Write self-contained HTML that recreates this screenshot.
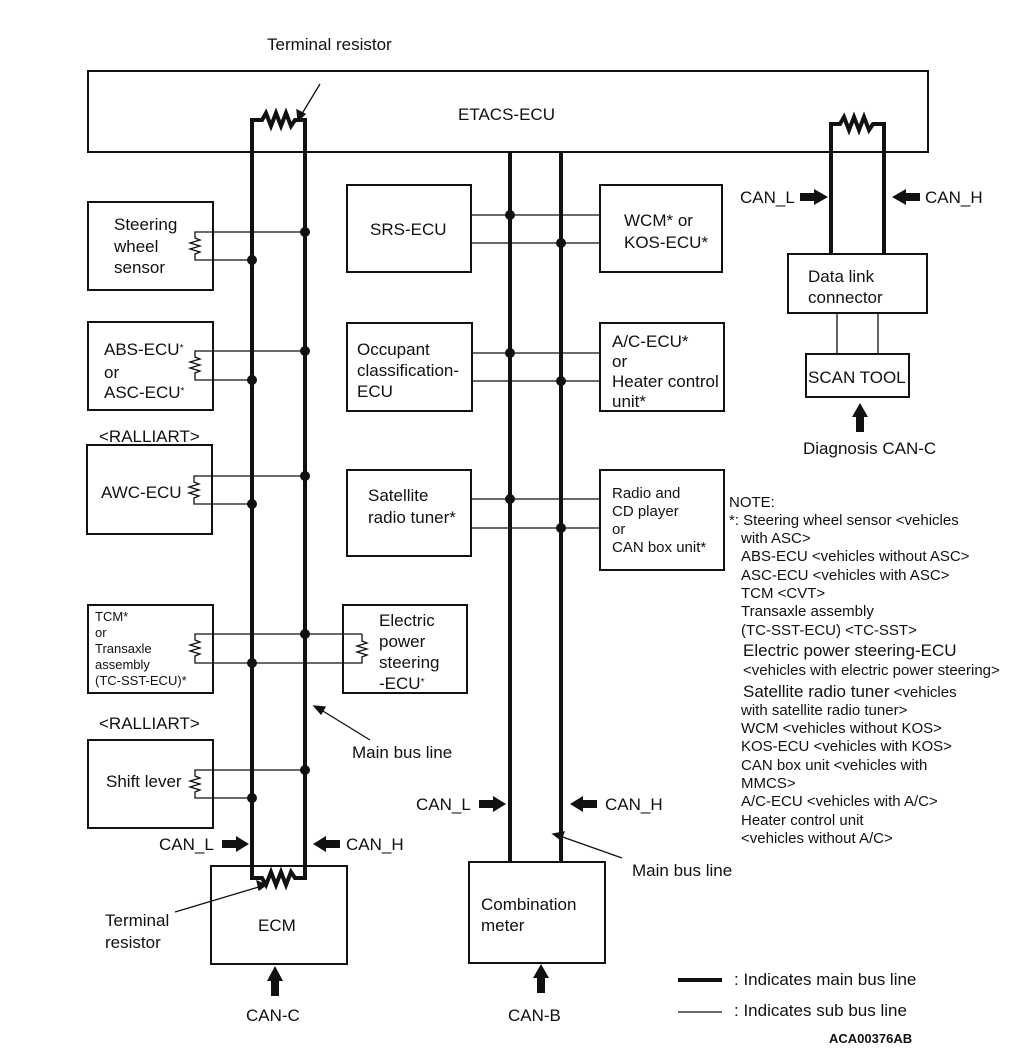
<!DOCTYPE html>
<html><head><style>
body{margin:0;background:#fff}
svg{display:block}
text{font-family:"Liberation Sans",Arial,sans-serif;fill:#111}
</style></head><body>
<svg width="1010" height="1050" viewBox="0 0 1010 1050" xmlns="http://www.w3.org/2000/svg">
<g fill="none" stroke="#111" stroke-width="2">
<rect x="88" y="71" width="840" height="81"/>
<rect x="88" y="202" width="125" height="88"/>
<rect x="88" y="322" width="125" height="88"/>
<rect x="87" y="445" width="125" height="89"/>
<rect x="88" y="605" width="125" height="88"/>
<rect x="88" y="740" width="125" height="88"/>
<rect x="343" y="605" width="124" height="88"/>
<rect x="211" y="866" width="136" height="98"/>
<rect x="347" y="185" width="124" height="87"/>
<rect x="347" y="323" width="125" height="88"/>
<rect x="347" y="470" width="124" height="86"/>
<rect x="600" y="185" width="122" height="87"/>
<rect x="600" y="323" width="124" height="88"/>
<rect x="600" y="470" width="124" height="100"/>
<rect x="469" y="862" width="136" height="101"/>
<rect x="788" y="254" width="139" height="59"/>
<rect x="806" y="354" width="103" height="43"/>
</g>
<g fill="none" stroke="#111" stroke-width="1.3">
<path d="M305 232 H195 V238 l5 2 l-10 3 l10 3 l-10 3 l10 3 l-5 2 V260 H252"/>
<path d="M305 351 H195 V357 l5 2 l-10 3 l10 3 l-10 3 l10 3 l-5 2 V380 H252"/>
<path d="M305 476 H194 V482 l5 2 l-10 3 l10 3 l-10 3 l10 3 l-5 2 V504 H252"/>
<path d="M305 770 H195 V776 l5 2 l-10 3 l10 3 l-10 3 l10 3 l-5 2 V798 H252"/>
<path d="M362 634 H195 V640 l5 2 l-10 3 l10 3 l-10 3 l10 3 l-5 2 V663 H362 V657 l5 -2 l-10 -3 l10 -3 l-10 -3 l10 -3 l-5 -2 V634"/>
<path d="M471 215 H600 M471 243 H600 M472 353 H600 M472 381 H600 M471 499 H600 M471 528 H600"/>
<path d="M837 313 V354 M878 313 V354"/>
<path d="M678 1012 H722"/>
</g>
<g fill="none" stroke="#111" stroke-width="4" stroke-linejoin="miter">
<path d="M252 870 V120 H262 l4 -7 l5 13 l5 -13 l5 13 l5 -13 l5 13 l4 -6 H305 V870"/>
<path d="M252 640 V878 H262 l4 7 l5 -13 l5 13 l5 -13 l5 13 l5 -13 l4 6 H305 V640"/>
<path d="M831 254 V124 H840 l4 -7 l5 13 l5 -13 l5 13 l5 -13 l5 13 l4 -6 H884 V254"/>
<path d="M510 152 V862 M561 152 V862"/>
<path d="M678 980 H722"/>
</g>
<g fill="#111">
<circle cx="305" cy="232" r="5"/><circle cx="252" cy="260" r="5"/>
<circle cx="305" cy="351" r="5"/><circle cx="252" cy="380" r="5"/>
<circle cx="305" cy="476" r="5"/><circle cx="252" cy="504" r="5"/>
<circle cx="305" cy="634" r="5"/><circle cx="252" cy="663" r="5"/>
<circle cx="305" cy="770" r="5"/><circle cx="252" cy="798" r="5"/>
<circle cx="510" cy="215" r="5"/><circle cx="561" cy="243" r="5"/>
<circle cx="510" cy="353" r="5"/><circle cx="561" cy="381" r="5"/>
<circle cx="510" cy="499" r="5"/><circle cx="561" cy="528" r="5"/>
<polygon points="222,840 236,840 236,836 249,844 236,852 236,848 222,848"/>
<polygon points="340,840 326,840 326,836 313,844 326,852 326,848 340,848"/>
<polygon points="479,800 493,800 493,796 506,804 493,812 493,808 479,808"/>
<polygon points="597,800 583,800 583,796 570,804 583,812 583,808 597,808"/>
<polygon points="800,193 814,193 814,189 828,197 814,205 814,201 800,201"/>
<polygon points="920,193 906,193 906,189 892,197 906,205 906,201 920,201"/>
<polygon points="271,996 271,981 267,981 275,966 283,981 279,981 279,996"/>
<polygon points="537,993 537,978 533,978 541,964 549,978 545,978 545,993"/>
<polygon points="856,432 856,417 852,417 860,403 868,417 864,417 864,432"/>
</g>
<g stroke="#111" stroke-width="1.3" fill="#111">
<line x1="320" y1="84" x2="300" y2="117"/><polygon points="298,121 297,110 305,114"/>
<line x1="370" y1="740" x2="318" y2="708"/><polygon points="314,706 325,707 321,714"/>
<line x1="622" y1="858" x2="557" y2="835"/><polygon points="553,834 564,832 561,840"/>
<line x1="175" y1="912" x2="262" y2="886"/><polygon points="266,885 257,881 259,890"/>
</g>
<g font-size="17">
<text x="267" y="50">Terminal resistor</text>
<text x="458" y="120">ETACS-ECU</text>
<text x="114" y="230">Steering</text><text x="114" y="252">wheel</text><text x="114" y="273">sensor</text>
<text x="104" y="355">ABS-ECU<tspan font-size="10" dy="-4">*</tspan></text><text x="104" y="378" dy="0">or</text><text x="104" y="398">ASC-ECU<tspan font-size="10" dy="-4">*</tspan></text>
<text x="99" y="442">&lt;RALLIART&gt;</text>
<text x="101" y="498">AWC-ECU</text>
<text x="99" y="729">&lt;RALLIART&gt;</text>
<text x="106" y="787">Shift lever</text>
<text x="379" y="626">Electric</text><text x="379" y="647">power</text><text x="379" y="668">steering</text><text x="379" y="689">-ECU<tspan font-size="10" dy="-4">*</tspan></text>
<text x="352" y="758">Main bus line</text>
<text x="159" y="850">CAN_L</text><text x="346" y="850">CAN_H</text>
<text x="105" y="926">Terminal</text><text x="105" y="948">resistor</text>
<text x="258" y="931">ECM</text>
<text x="246" y="1021">CAN-C</text>
<text x="370" y="235">SRS-ECU</text>
<text x="357" y="355">Occupant</text><text x="357" y="376">classification-</text><text x="357" y="397">ECU</text>
<text x="368" y="501">Satellite</text><text x="368" y="523">radio tuner*</text>
<text x="624" y="226">WCM* or</text><text x="624" y="248">KOS-ECU*</text>
<text x="612" y="347">A/C-ECU*</text><text x="612" y="367">or</text><text x="612" y="387">Heater control</text><text x="612" y="407">unit*</text>
<text x="416" y="810">CAN_L</text><text x="605" y="810">CAN_H</text>
<text x="632" y="876">Main bus line</text>
<text x="481" y="910">Combination</text><text x="481" y="931">meter</text>
<text x="508" y="1021">CAN-B</text>
<text x="740" y="203">CAN_L</text><text x="925" y="203">CAN_H</text>
<text x="808" y="282">Data link</text><text x="808" y="303">connector</text>
<text x="808" y="383">SCAN TOOL</text>
<text x="803" y="454">Diagnosis CAN-C</text>
<text x="734" y="985">: Indicates  main bus line</text>
<text x="734" y="1016">: Indicates  sub bus line</text>
</g>
<g font-size="15">
<text x="612" y="498">Radio and</text><text x="612" y="516">CD player</text><text x="612" y="534">or</text><text x="612" y="552">CAN box unit*</text>
<text x="95" y="621" font-size="13">TCM*</text><text x="95" y="637" font-size="13">or</text><text x="95" y="653" font-size="13">Transaxle</text><text x="95" y="669" font-size="13">assembly</text><text x="95" y="685" font-size="13">(TC-SST-ECU)*</text>
<text x="729" y="507">NOTE:</text>
<text x="729" y="525">*: Steering wheel sensor &lt;vehicles</text>
<text x="741" y="543">with ASC&gt;</text>
<text x="741" y="561">ABS-ECU &lt;vehicles without ASC&gt;</text>
<text x="741" y="580">ASC-ECU &lt;vehicles with ASC&gt;</text>
<text x="741" y="598">TCM &lt;CVT&gt;</text>
<text x="741" y="616">Transaxle assembly</text>
<text x="741" y="635">(TC-SST-ECU) &lt;TC-SST&gt;</text>
<text x="743" y="656" font-size="17">Electric power steering-ECU</text>
<text x="743" y="675">&lt;vehicles with electric power steering&gt;</text>
<text x="743" y="697"><tspan font-size="17">Satellite radio tuner</tspan> &lt;vehicles</text>
<text x="741" y="715">with satellite radio tuner&gt;</text>
<text x="741" y="733">WCM &lt;vehicles without KOS&gt;</text>
<text x="741" y="751">KOS-ECU &lt;vehicles with KOS&gt;</text>
<text x="741" y="770">CAN box unit &lt;vehicles with</text>
<text x="741" y="788">MMCS&gt;</text>
<text x="741" y="806">A/C-ECU &lt;vehicles with A/C&gt;</text>
<text x="741" y="825">Heater control unit</text>
<text x="741" y="843">&lt;vehicles without A/C&gt;</text>
<text x="829" y="1043" font-size="13" font-weight="bold">ACA00376AB</text>
</g>
</svg>
</body></html>
